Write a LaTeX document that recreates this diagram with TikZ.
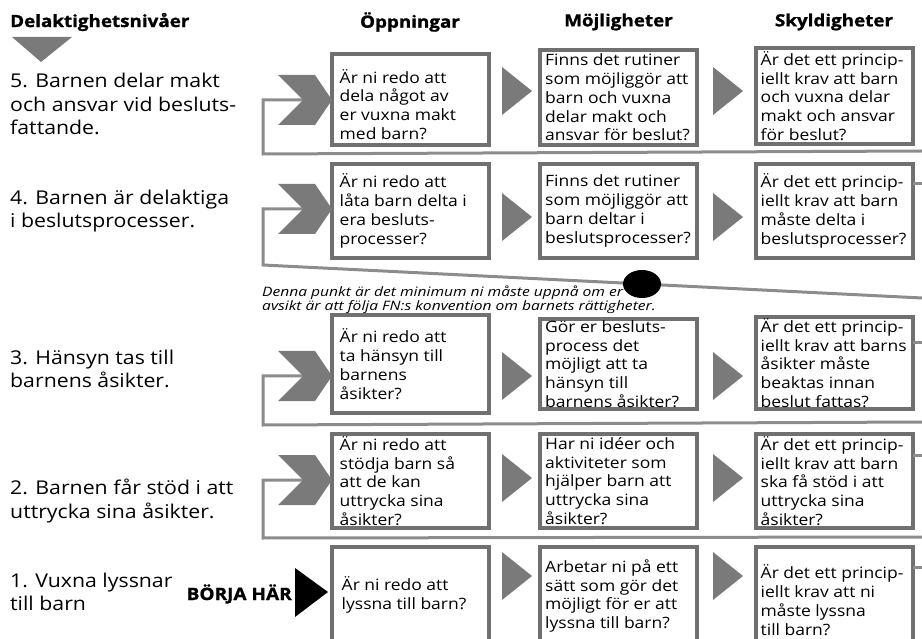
\documentclass[tikz,border=0pt]{standalone}
\usepackage{fontspec}
\setmainfont{Open Sans}[FakeStretch=1.12, BoldFeatures={FakeBold=1.2}]
\newfontfamily\notefont{Open Sans}[FakeStretch=1.2]
\definecolor{boxgray}{RGB}{112,112,112}
\definecolor{loopgray}{RGB}{140,140,140}
\definecolor{arrowgray}{RGB}{122,122,122}
\tikzset{
  tri/.pic={\fill[arrowgray] (-15,-24) -- (15,0) -- (-15,24) -- cycle;},
  chev/.pic={\fill[arrowgray] (-25,-25) -- (12,-25) -- (29,0) -- (12,25) -- (-25,25) -- (0,0) -- cycle;}
}
\begin{document}
\begin{tikzpicture}[x=1pt, y=-1pt,
  box/.style={draw=boxgray, line width=4pt, minimum width=157pt, inner sep=0pt, outer sep=0pt},
  txt/.style={align=left, anchor=west, inner sep=0pt, font=\fontsize{15.6}{18.8}\selectfont},
  lbl/.style={align=left, anchor=west, inner sep=0pt, font=\fontsize{19}{23.5}\selectfont},
  head/.style={inner sep=0pt, font=\bfseries\fontsize{16.8}{20}\selectfont},
  loopline/.style={draw=loopgray, line width=3pt}]
  \useasboundingbox (0,0) rectangle (922,639);
  \clip (0,0) rectangle (922,639);

  % Boxes
  \node[box, minimum height=91pt] (b51) at (410,99.5) {};
  \node[box, minimum height=95pt] (b52) at (618.5,97.5) {};
  \node[box, minimum height=96pt] (b53) at (834,96) {};
  \node[box, minimum height=94pt] (b41) at (410,211) {};
  \node[box, minimum height=94pt] (b42) at (618.5,211) {};
  \node[box, minimum height=94pt] (b43) at (834,211) {};
  \node[box, minimum height=98pt] (b31) at (410,364) {};
  \node[box, minimum height=90pt] (b32) at (618.5,364) {};
  \node[box, minimum height=92pt] (b33) at (834,363) {};
  \node[box, minimum height=94pt] (b21) at (410,481) {};
  \node[box, minimum height=94pt] (b22) at (618.5,481) {};
  \node[box, minimum height=94pt] (b23) at (834,481) {};
  \node[box, minimum height=106pt] (b11) at (410,600) {};
  \node[box, minimum height=106pt] (b12) at (618.5,600) {};
  \node[box, minimum height=106pt] (b13) at (834,600) {};

  % Headers
  \node[head, anchor=west] (h0) at (10,22) {Delaktighetsnivåer};
  \node[head] (h1) at (b51.north |- 0,22) {Öppningar};
  \node[head] (h2) at (b52.north |- 0,22) {Möjligheter};
  \node[head] (h3) at (b53.north |- 0,22) {Skyldigheter};
  \fill[arrowgray] (12,37) -- (72,37) -- (41,62) -- cycle;

  % Levels
  \node[lbl] (l5) at (10,104) {5. Barnen delar makt\\och ansvar vid besluts-\\fattande.};
  \node[lbl] (l4) at (10,211) {4. Barnen är delaktiga\\i beslutsprocesser.};
  \node[lbl] (l3) at (10,369) {3. Hänsyn tas till\\barnens åsikter.};
  \node[lbl] (l2) at (10,501) {2. Barnen får stöd i att\\uttrycka sina åsikter.};
  \node[lbl] (l1) at (10,592) {1. Vuxna lyssnar\\till barn};

  % Box texts
  \node[txt, yshift=-5pt] (t51) at ([xshift=8pt]b51.west) {Är ni redo att\\dela något av\\er vuxna makt\\med barn?};
  \node[txt] (t52) at ([xshift=5pt]b52.west) {Finns det rutiner\\som möjliggör att\\barn och vuxna\\delar makt och\\ansvar för beslut?};
  \node[txt] (t53) at ([xshift=5pt]b53.west) {Är det ett princip-\\iellt krav att barn\\och vuxna delar\\makt och ansvar\\för beslut?};
  \node[txt] (t41) at ([xshift=8pt]b41.west) {Är ni redo att\\låta barn delta i\\era besluts-\\processer?};
  \node[txt] (t42) at ([xshift=5pt]b42.west) {Finns det rutiner\\som möjliggör att\\barn deltar i\\beslutsprocesser?};
  \node[txt] (t43) at ([xshift=5pt]b43.west) {Är det ett princip-\\iellt krav att barn\\måste delta i\\beslutsprocesser?};
  \node[txt] (t31) at ([xshift=8pt]b31.west) {Är ni redo att\\ta hänsyn till\\barnens\\åsikter?};
  \node[txt] (t32) at ([xshift=5pt]b32.west) {Gör er besluts-\\process det\\möjligt att ta\\hänsyn till\\barnens åsikter?};
  \node[txt] (t33) at ([xshift=5pt]b33.west) {Är det ett princip-\\iellt krav att barns\\åsikter måste\\beaktas innan\\beslut fattas?};
  \node[txt] (t21) at ([xshift=8pt]b21.west) {Är ni redo att\\stödja barn så\\att de kan\\uttrycka sina\\åsikter?};
  \node[txt] (t22) at ([xshift=5pt]b22.west) {Har ni idéer och\\aktiviteter som\\hjälper barn att\\uttrycka sina\\åsikter?};
  \node[txt] (t23) at ([xshift=5pt]b23.west) {Är det ett princip-\\iellt krav att barn\\ska få stöd i att\\uttrycka sina\\åsikter?};
  \node[txt, yshift=5pt] (t11) at ([xshift=10pt]b11.west) {Är ni redo att\\lyssna till barn?};
  \node[txt, yshift=4pt] (t12) at ([xshift=5pt]b12.west) {Arbetar ni på ett\\sätt som gör det\\möjligt för er att\\lyssna till barn?};
  \node[txt] (t13) at ([xshift=5pt]b13.west) {Är det ett princip-\\iellt krav att ni\\måste lyssna\\till barn?};

  % Loops back to each level
  \coordinate (c5) at (303,100);
  \coordinate (c4) at (303,209);
  \coordinate (c3) at (303,376);
  \coordinate (c2) at (303,480);
  \draw[loopline] (c5) -- ++(-40,0) -- ++(0,54) -- (922,151);
  \draw[loopline] (c4) -- ++(-40,0) -- ++(0,56) -- (922,298);
  \draw[loopline] (c3) -- ++(-40,0) -- ++(0,49) -- (922,422);
  \draw[loopline] (c2) -- ++(-40,0) -- ++(0,58) -- (922,537);
  \draw[loopline] ([yshift=27pt]b43.east) -- ++(10,0);
  \draw[loopline] ([yshift=20pt]b33.east) -- ++(10,0);
  \draw[loopline] ([yshift=26pt]b23.east) -- ++(10,0);
  \draw[loopline] ([yshift=33pt]b13.east) -- ++(10,0);
  \foreach \c in {c5,c4,c3,c2}
    \pic at (\c) {chev};

  % Arrows between boxes
  \foreach \y in {91,217,376,478,576} {
    \pic at (517,\y) {tri};
    \pic at (728,\y) {tri};
  }

  % Minimum level
  \fill (642,284) ellipse (19pt and 14pt);
  \node[align=left, anchor=west, inner sep=0pt, font=\notefont\itshape\fontsize{13}{13}\selectfont] (note) at (262,300)
    {Denna punkt är det minimum ni måste uppnå om er\\avsikt är att följa FN:s konvention om barnets rättigheter.};

  % Start
  \fill (295,568) -- (328,592) -- (295,617) -- cycle;
  \node[head, anchor=east, font=\bfseries\fontsize{17}{20}\selectfont] (start) at (292,594) {BÖRJA HÄR};
\end{tikzpicture}
\end{document}
